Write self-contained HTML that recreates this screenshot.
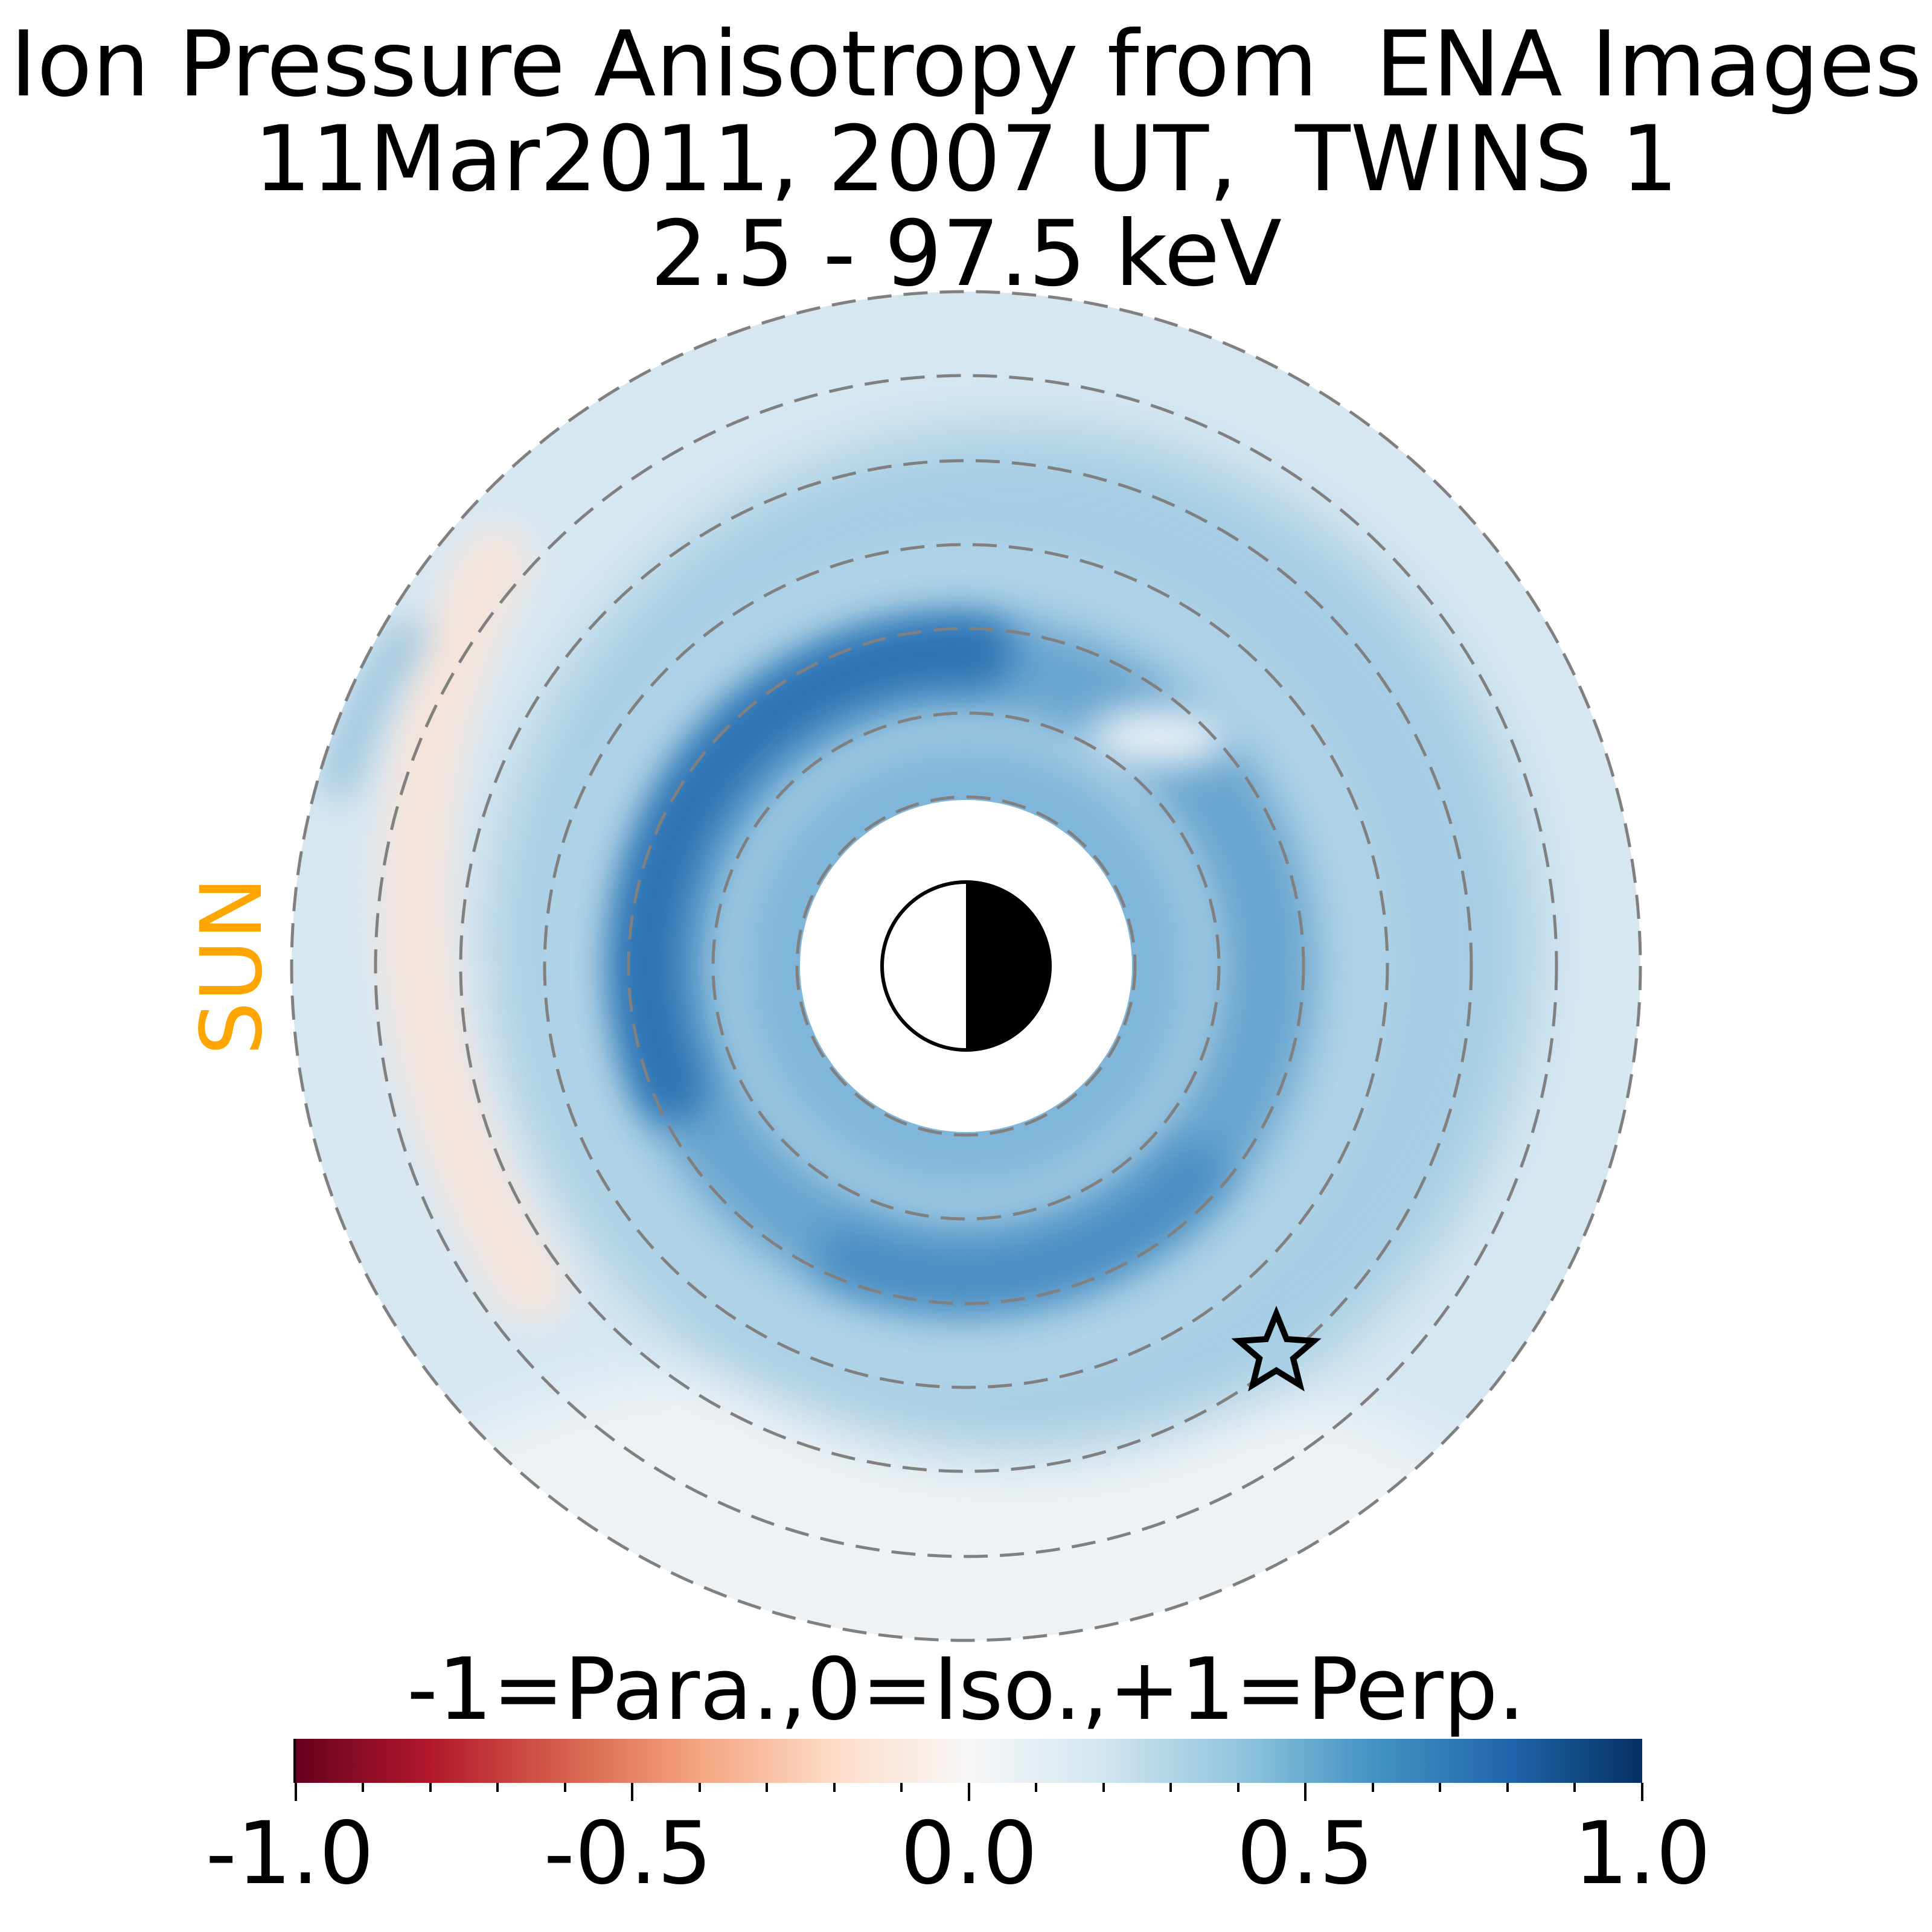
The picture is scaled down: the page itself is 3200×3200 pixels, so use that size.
<!DOCTYPE html>
<html><head><meta charset="utf-8"><style>
html,body{margin:0;padding:0;background:#fff;width:3200px;height:3200px;overflow:hidden}
</style></head><body>
<svg width="3200" height="3200" viewBox="0 0 3200 3200" xmlns="http://www.w3.org/2000/svg" font-family="'DejaVu Sans','Liberation Sans',sans-serif">
<defs>
<clipPath id="disk"><circle cx="1600" cy="1600" r="1117"/></clipPath>
<filter id="b1" filterUnits="userSpaceOnUse" x="0" y="0" width="3200" height="3200"><feGaussianBlur stdDeviation="50"/></filter>
<filter id="b2" filterUnits="userSpaceOnUse" x="0" y="0" width="3200" height="3200"><feGaussianBlur stdDeviation="32"/></filter>
<linearGradient id="cmap" x1="0" x2="1" y1="0" y2="0">
<stop offset="0" stop-color="#67001f"/><stop offset="0.1" stop-color="#b2182b"/><stop offset="0.2" stop-color="#d6604d"/><stop offset="0.3" stop-color="#f4a582"/><stop offset="0.4" stop-color="#fddbc7"/><stop offset="0.5" stop-color="#f7f7f7"/><stop offset="0.6" stop-color="#d1e5f0"/><stop offset="0.7" stop-color="#92c5de"/><stop offset="0.8" stop-color="#4393c3"/><stop offset="0.9" stop-color="#2166ac"/><stop offset="1" stop-color="#053061"/>
</linearGradient>
</defs>
<g text-anchor="middle" font-size="150" fill="#000">
<text x="1600" y="158">Ion Pressure Anisotropy from&#160; ENA Images</text>
<text x="1600" y="315">11Mar2011, 2007 UT,&#160; TWINS 1</text>
<text x="1600" y="472">2.5 - 97.5 keV</text>
</g>
<g clip-path="url(#disk)">
<rect x="400" y="400" width="2400" height="2400" fill="#d6e7f1"/>
<ellipse cx="1560" cy="2650" rx="1000" ry="420" fill="#eff2f4" filter="url(#b1)"/>
<ellipse cx="1680" cy="1560" rx="860" ry="850" fill="#a6cde4" filter="url(#b1)"/>
<circle cx="1600" cy="1600" r="500" fill="none" stroke="#6aa5cf" stroke-width="150" filter="url(#b2)"/>
<path d="M1110,1800 A520,520 0 0 1 1620,1080" fill="none" stroke="#2a72b3" stroke-width="120" stroke-linecap="round" filter="url(#b2)"/>
<path d="M1400,2080 A520,520 0 0 0 1980,1940" fill="none" stroke="#4a8dc3" stroke-width="100" stroke-linecap="round" filter="url(#b2)"/>
<circle cx="1600" cy="1600" r="665" fill="none" stroke="#bcd9ea" stroke-width="50" filter="url(#b2)" opacity="0.8"/>
<ellipse cx="1920" cy="1220" rx="120" ry="50" fill="#e8f1f7" filter="url(#b2)"/>
<circle cx="1600" cy="1600" r="370" fill="#80b6d9" filter="url(#b2)"/>
<path d="M820,930 A1200,1200 0 0 0 880,2130" fill="none" stroke="#f6e4dc" stroke-width="120" stroke-linecap="round" filter="url(#b2)"/>
<path d="M680,1050 Q600,1150 560,1300" fill="none" stroke="#7fb2d6" stroke-width="40" stroke-linecap="round" filter="url(#b2)"/>
</g>
<circle cx="1600" cy="1600" r="275" fill="#fff"/>
<g fill="none" stroke="#808080" stroke-width="5" stroke-dasharray="40 20">
<circle cx="1600" cy="1600" r="1117"/><circle cx="1600" cy="1600" r="978"/><circle cx="1600" cy="1600" r="837"/>
<circle cx="1600" cy="1600" r="698"/><circle cx="1600" cy="1600" r="559"/><circle cx="1600" cy="1600" r="419"/><circle cx="1600" cy="1600" r="280"/>
</g>
<path d="M1600,1461 A139,139 0 0 1 1600,1739 Z" fill="#000"/>
<circle cx="1600" cy="1600" r="139" fill="none" stroke="#000" stroke-width="6"/>
<path d="M2114,2176 L2131,2218 L2176,2221 L2142,2250 L2153,2294 L2114,2270 L2075,2294 L2086,2250 L2052,2221 L2097,2218 Z" fill="#a9cfe5" stroke="#000" stroke-width="10" stroke-linejoin="miter"/>
<text x="0" y="0" font-size="140" fill="#FFA500" text-anchor="middle" transform="translate(432 1600) rotate(-90)">SUN</text>
<text x="1600" y="2847" font-size="142" text-anchor="middle">-1=Para.,0=Iso.,+1=Perp.</text>
<rect x="490" y="2880" width="2230" height="73" fill="url(#cmap)"/>
<g stroke="#000" stroke-width="4">
<line x1="488" y1="2880" x2="488" y2="2953"/>
<line x1="490" y1="2953" x2="490" y2="2983"/><line x1="1047" y1="2953" x2="1047" y2="2983"/><line x1="1605" y1="2953" x2="1605" y2="2983"/><line x1="2162" y1="2953" x2="2162" y2="2983"/><line x1="2720" y1="2953" x2="2720" y2="2983"/>
<line x1="601" y1="2953" x2="601" y2="2968"/><line x1="713" y1="2953" x2="713" y2="2968"/><line x1="824" y1="2953" x2="824" y2="2968"/><line x1="936" y1="2953" x2="936" y2="2968"/>
<line x1="1159" y1="2953" x2="1159" y2="2968"/><line x1="1270" y1="2953" x2="1270" y2="2968"/><line x1="1382" y1="2953" x2="1382" y2="2968"/><line x1="1493" y1="2953" x2="1493" y2="2968"/>
<line x1="1716" y1="2953" x2="1716" y2="2968"/><line x1="1828" y1="2953" x2="1828" y2="2968"/><line x1="1939" y1="2953" x2="1939" y2="2968"/><line x1="2051" y1="2953" x2="2051" y2="2968"/>
<line x1="2274" y1="2953" x2="2274" y2="2968"/><line x1="2385" y1="2953" x2="2385" y2="2968"/><line x1="2497" y1="2953" x2="2497" y2="2968"/><line x1="2608" y1="2953" x2="2608" y2="2968"/>
</g>
<g font-size="143" text-anchor="middle">
<text x="480" y="3119">-1.0</text><text x="1040" y="3119">-0.5</text><text x="1605" y="3119">0.0</text><text x="2162" y="3119">0.5</text><text x="2720" y="3119">1.0</text>
</g>
</svg>
</body></html>
